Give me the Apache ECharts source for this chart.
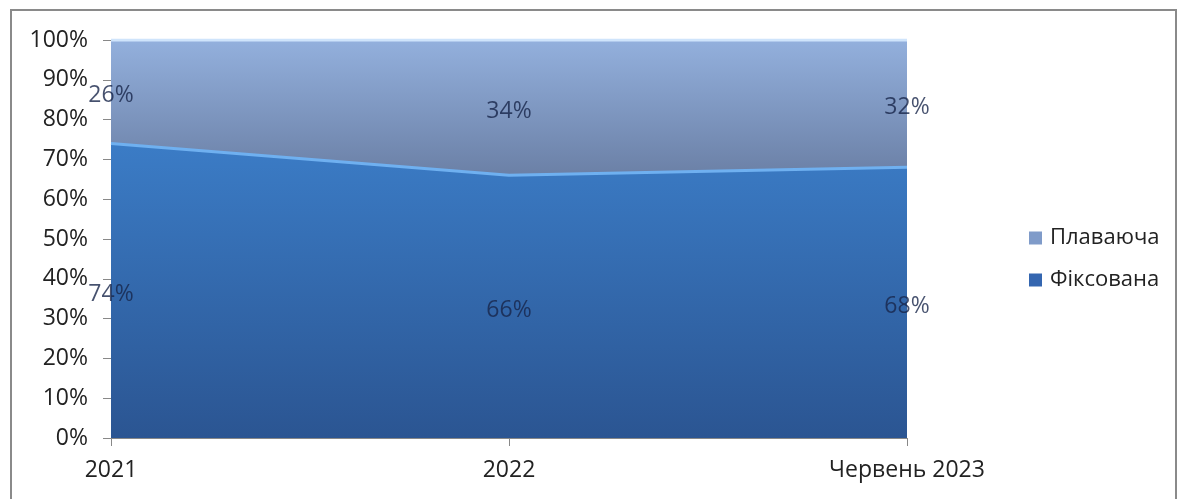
<!doctype html>
<html>
<head>
<meta charset="utf-8">
<script src="https://cdn.jsdelivr.net/npm/echarts@6/dist/echarts.min.js"></script>
<style>
  html, body { margin: 0; padding: 0; background: #fff; }
  #frame { position: absolute; left: 10px; top: 9px; width: 1163px; height: 500px;
           border-left: 2px solid #8a8a8a; border-top: 2px solid #8a8a8a; border-right: 2px solid #8a8a8a; }
  #chart { position: absolute; left: 0; top: 0; width: 1178px; height: 499px; }
</style>
</head>
<body>
<div id="frame"></div>
<div id="chart"></div>
<script>
var categories = ['2021', '2022', 'Червень 2023']
var fixed = [74, 66, 68]
var floating = [26, 34, 32]
var names = ['Фіксована', 'Плаваюча']

var chart = echarts.init(document.getElementById('chart'))

var font = '"Open Sans", "DejaVu Sans", sans-serif'

// label points sit in the middle of each band
var labelPoints = []
categories.forEach(function (c, i) {
	labelPoints.push({ value: [i, fixed[i] / 2], shown: fixed[i] })
	labelPoints.push({ value: [i, fixed[i] + floating[i] / 2], shown: floating[i] })
})

var option = {
	animation: false,
	grid: { left: 111, right: 271, top: 40, bottom: 61 },
	legend: {
		orient: 'vertical',
		left: 1024,
		top: 222,
		itemGap: 20,
		itemWidth: 13,
		itemHeight: 13,
		icon: 'rect',
		data: [names[1], names[0]],
		textStyle: { fontSize: 22, fontFamily: font, color: '#222', padding: [0, 0, 0, 3] }
	},
	xAxis: {
		type: 'category',
		data: categories,
		boundaryGap: false,
		axisLine: { lineStyle: { color: '#888' } },
		axisTick: { length: 8, lineStyle: { color: '#888' } },
		axisLabel: { margin: 21, fontSize: 23, fontFamily: font, color: '#222' }
	},
	yAxis: {
		type: 'value',
		min: 0,
		max: 100,
		interval: 10,
		splitLine: { show: false },
		axisLine: { show: true, lineStyle: { color: '#888' } },
		axisTick: { show: true, length: 8, lineStyle: { color: '#888' } },
		axisLabel: { formatter: '{value}%', margin: 23, fontSize: 23, fontFamily: font, color: '#222' }
	},
	series: [
		{
			name: names[0],
			type: 'line',
			stack: 'total',
			data: fixed,
			symbol: 'none',
			lineStyle: { color: '#6fb0f0', width: 3 },
			itemStyle: { color: '#3466b0' },
			areaStyle: {
				opacity: 1,
				color: new echarts.graphic.LinearGradient(0, 0, 0, 1, [
					{ offset: 0, color: '#3b7cc6' },
					{ offset: 1, color: '#2b5592' }
				])
			},
			z: 3
		},
		{
			name: names[1],
			type: 'line',
			stack: 'total',
			data: floating,
			symbol: 'none',
			lineStyle: { color: '#cfe4fb', width: 3 },
			itemStyle: { color: '#7f9bc9' },
			areaStyle: {
				opacity: 1,
				color: new echarts.graphic.LinearGradient(0, 0, 0, 1, [
					{ offset: 0, color: '#93b0dd' },
					{ offset: 1, color: '#6b80a6' }
				])
			},
			z: 2
		},
		{
			type: 'scatter',
			data: labelPoints,
			symbolSize: 0,
			silent: true,
			z: 10,
			label: {
				show: true,
				position: 'inside',
				offset: [0, 4],
				formatter: function (p) { return p.data.shown + '%' },
				color: '#18264a',
				textBorderWidth: 0,
				textBorderColor: 'transparent',
				fontSize: 23,
				fontFamily: font
			}
		}
	]
}

chart.setOption(option)
</script>
</body>
</html>
